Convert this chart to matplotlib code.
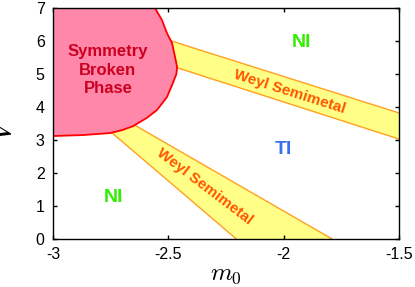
import matplotlib
matplotlib.use("Agg")
import matplotlib.pyplot as plt

plt.rcParams['font.family'] = ['Liberation Sans', 'DejaVu Sans']
plt.rcParams['mathtext.fontset'] = 'cm'

# Symmetry broken phase boundary (m0, V)
sb_m0 = [-3.0, -2.87, -2.753, -2.70, -2.653, -2.593, -2.549, -2.506, -2.48, -2.465,
         -2.462, -2.471, -2.484, -2.506, -2.528, -2.558]
sb_V = [3.12, 3.15, 3.21, 3.30, 3.42, 3.67, 3.91, 4.30, 4.73, 5.00,
        5.21, 5.52, 5.94, 6.24, 6.64, 7.0]

# Upper Weyl semimetal band edges
wu_m0 = [-2.6, -1.5]
wu_top = [6.25, 3.82]
wu_bot = [5.50, 3.03]

# Lower Weyl semimetal band edges
wl_right_m0 = [-2.75, -1.79]
wl_right_V = [3.87, 0.0]
wl_left_m0 = [-2.8, -2.205]
wl_left_V = [3.55, 0.0]

xticks = [-3, -2.5, -2, -1.5]
xticklabels = ['-3', '-2.5', '-2', '-1.5']
yticks = [0, 1, 2, 3, 4, 5, 6, 7]

fig = plt.figure(figsize=(4.15, 2.87), dpi=100)
ax = fig.add_axes([53/415, 1-239/287, 346/415, 231/287])

yellow = '#ffff88'
orange = '#ffa020'

# upper band
ax.fill_between(wu_m0, wu_bot, wu_top, color=yellow, lw=0, zorder=1)
ax.plot(wu_m0, wu_top, color=orange, lw=1.0, zorder=2)
ax.plot(wu_m0, wu_bot, color=orange, lw=1.0, zorder=2)

# lower band
poly_x = [wl_left_m0[0], wl_right_m0[0], wl_right_m0[1], wl_left_m0[1]]
poly_y = [wl_left_V[0], wl_right_V[0], wl_right_V[1], wl_left_V[1]]
ax.fill(poly_x, poly_y, color=yellow, lw=0, zorder=1)
ax.plot(wl_right_m0, wl_right_V, color=orange, lw=1.0, zorder=2)
ax.plot(wl_left_m0, wl_left_V, color=orange, lw=1.0, zorder=2)

# symmetry broken region
px = sb_m0 + [-3.0]
py = sb_V + [7.0]
ax.fill(px, py, color='#ff88aa', lw=0, zorder=3)
ax.plot(sb_m0, sb_V, color='#ff0000', lw=1.3, zorder=4, clip_on=True)

ax.text(-2.762, 5.12, 'Symmetry\nBroken\nPhase', color='#cc0020', fontsize=12,
        fontweight='bold', ha='center', va='center', linespacing=1.3, zorder=5)
ax.text(-1.973, 4.45, 'Weyl Semimetal', color='#ff5500', fontsize=11,
        fontweight='bold', ha='center', va='center', rotation=-17.6,
        rotation_mode='anchor', zorder=5)
ax.text(-2.341, 1.58, 'Weyl Semimetal', color='#ff5500', fontsize=11,
        fontweight='bold', ha='center', va='center', rotation=-37.2,
        rotation_mode='anchor', zorder=5)
ax.text(-1.921, 5.94, 'NI', color='#33ee00', fontsize=14, fontweight='bold',
        ha='center', va='center', zorder=5)
ax.text(-2.736, 1.27, 'NI', color='#33ee00', fontsize=14, fontweight='bold',
        ha='center', va='center', zorder=5)
ax.text(-2.003, 2.7, 'TI', color='#3a6ef0', fontsize=14, fontweight='bold',
        ha='center', va='center', zorder=5)

ax.set_xlim(-3, -1.5)
ax.set_ylim(0, 7)
ax.set_xticks(xticks)
ax.set_xticklabels(xticklabels)
ax.set_yticks(yticks)
ax.tick_params(direction='in', top=True, right=True, length=3, width=1,
               labelsize=11.5, pad=6)
for s in ax.spines.values():
    s.set_linewidth(1.0)
    s.set_zorder(10)

ax.set_xlabel(r'$m_0$', fontsize=18)
ax.xaxis.set_label_coords(0.5, -0.10)
ax.set_ylabel(r'$V$', fontsize=24)
ax.yaxis.set_label_coords(-0.10, 0.48)

fig.savefig('out.png', dpi=100)
